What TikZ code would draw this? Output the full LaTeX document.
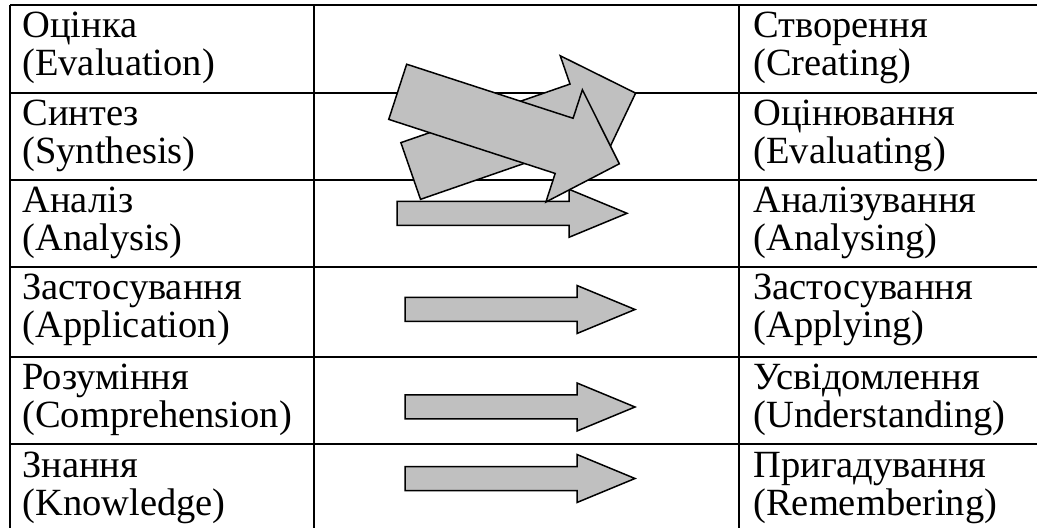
\documentclass[tikz,border=0pt]{standalone}
\usepackage{fontspec}
\setmainfont{Liberation Serif}
\usepackage{xcolor}
\definecolor{arrowgray}{HTML}{C0C0C0}

% block arrow along +x: length, shaft half width, head half width, head base
\newcommand{\blockarrow}[4]{%
  \draw[arrowbody] (0,-#2) -- (#4,-#2) -- (#4,-#3) -- (#1,0)
    -- (#4,#3) -- (#4,#2) -- (0,#2) -- cycle;}

\begin{document}
\begin{tikzpicture}[x=0.5pt, y=-0.5pt,
    gridline/.style={line width=1pt, black},
    arrowbody/.style={draw=black, line width=0.75pt, fill=arrowgray, line join=miter},
    cell/.style={anchor=base west, inner sep=0pt, font=\fontsize{19.25pt}{19pt}\selectfont}]
  \useasboundingbox (0,0) rectangle (1037,528);

  % Table
  \foreach \y in {5, 93, 180, 267, 357, 444}
    \draw[gridline] (10,\y) -- (1037,\y);
  \foreach \x in {10, 314, 739}
    \draw[gridline] (\x,5) -- (\x,528);

  % Texts
  \foreach \top/\ua/\ea/\ub/\eb [count=\i] in {
      5/{Оцінка}/{(Evaluation)}/{Створення}/{(Creating)},
      93/{Синтез}/{(Synthesis)}/{Оцінювання}/{(Evaluating)},
      180/{Аналіз}/{(Analysis)}/{Аналізування}/{(Analysing)},
      267/{Застосування}/{(Application)}/{Застосування}/{(Applying)},
      357/{Розуміння}/{(Comprehension)}/{Усвідомлення}/{(Understanding)},
      444/{Знання}/{(Knowledge)}/{Пригадування}/{(Remembering)}} {
    \node[cell] (old\i) at (22,\top+33) {\ua};
    \node[cell] (oldeng\i) at (22,\top+71) {\ea};
    \node[cell] (new\i) at (753,\top+33) {\ub};
    \node[cell] (neweng\i) at (753,\top+71) {\eb};
  }

  % Straight arrows
  \begin{scope}[shift={(397,213.3)}]
    \blockarrow{230}{12}{24}{172}
  \end{scope}
  \foreach \y in {309.5, 407, 478.5} {
    \begin{scope}[shift={(405,\y)}]
      \blockarrow{230}{12}{24}{172}
    \end{scope}
  }

  % Crossed arrows
  \begin{scope}[shift={(410.7,171)}, rotate=19.1]
    \blockarrow{238}{30}{60}{179}
  \end{scope}
  \begin{scope}[shift={(397.7,91.8)}, rotate=-18]
    \blockarrow{233}{29}{59}{175}
  \end{scope}
\end{tikzpicture}
\end{document}
